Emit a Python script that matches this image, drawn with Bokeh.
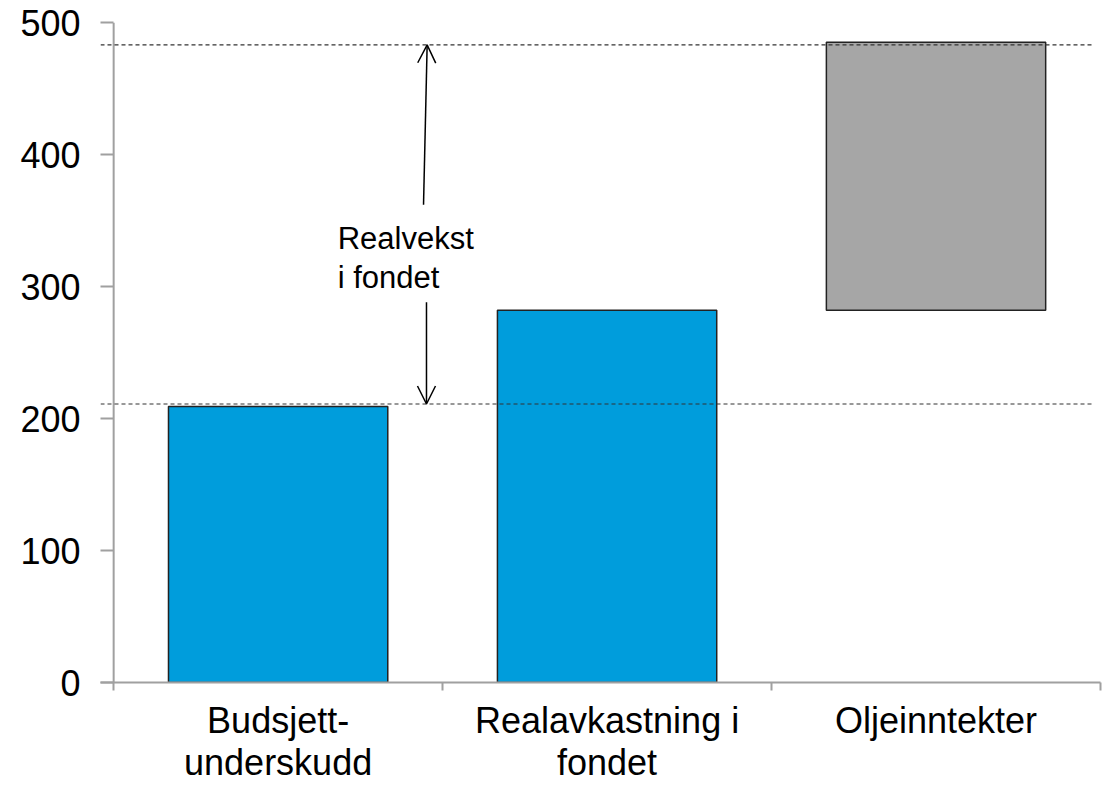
from bokeh.plotting import figure
from bokeh.models import (ColumnDataSource, Range1d, FixedTicker, Arrow, OpenHead, Label, LinearAxis)
from bokeh.embed import file_html
from bokeh.resources import INLINE

# ---- data ----
categories = [["Budsjett-", "underskudd"], ["Realavkastning i", "fondet"], ["Oljeinntekter"]]
bar_bottom = [0, 0, 282]
bar_top = [209, 282, 485]
bar_colors = ["#009DDC", "#009DDC", "#A6A6A6"]
ref_levels = [211, 483]          # dashed reference lines
y_ticks = [0, 100, 200, 300, 400, 500]
annot_lines = ["Realvekst", "i fondet"]

FONT = "Liberation Sans"
AXIS_GRAY = "#A0A0A0"

xs = [i + 0.5 for i in range(len(categories))]
bounds = [i for i in range(len(categories) + 1)]

p = figure(width=1106, height=785, output_backend="svg", toolbar_location=None,
           x_range=Range1d(-0.04, 3.0), y_range=Range1d(0, 500),
           min_border_left=100, min_border_right=6, min_border_top=22, min_border_bottom=0)
p.outline_line_color = None
p.xgrid.visible = False
p.ygrid.visible = False
p.background_fill_color = "white"
p.border_fill_color = "white"

src = ColumnDataSource(dict(x=xs, top=bar_top, bottom=bar_bottom, color=bar_colors))
p.vbar(x="x", top="top", bottom="bottom", width=2/3, fill_color="color",
       line_color="#222222", line_width=1.5, source=src)

# y-axis line at x=0
p.segment(x0=[0], y0=[0], x1=[0], y1=[y_ticks[-1]], line_color=AXIS_GRAY, line_width=2)

# dashed reference lines
p.segment(x0=[-0.04] * len(ref_levels), y0=ref_levels, x1=[2.975] * len(ref_levels), y1=ref_levels,
          line_color="#333333", line_width=1.2, line_dash="4 3")

# arrows
p.add_layout(Arrow(end=OpenHead(size=18, line_width=1.5, line_color="black"),
                   x_start=0.942, y_start=362, x_end=0.953, y_end=ref_levels[1],
                   line_width=1.5, line_color="black"))
p.add_layout(Arrow(end=OpenHead(size=18, line_width=1.5, line_color="black"),
                   x_start=0.951, y_start=288, x_end=0.951, y_end=ref_levels[0],
                   line_width=1.5, line_color="black"))

for txt, yy in zip(annot_lines, [336, 307]):
    p.add_layout(Label(x=0.681, y=yy, text=txt, text_font=FONT, text_font_size="31px",
                       text_baseline="alphabetic", text_align="left", text_color="black"))

# y axis
ya = p.yaxis[0]
ya.ticker = FixedTicker(ticks=y_ticks, minor_ticks=[])
ya.axis_line_color = None
ya.major_tick_in = 13
ya.major_tick_out = 0
ya.major_tick_line_color = AXIS_GRAY
ya.major_tick_line_width = 2
ya.minor_tick_line_color = None
ya.major_label_standoff = 20
ya.major_label_text_font = FONT
ya.major_label_text_font_size = "36px"
ya.major_label_text_color = "black"

# x axis: boundary tick marks + first line of category labels
xa = p.xaxis[0]
xa.ticker = FixedTicker(ticks=xs, minor_ticks=bounds)
xa.major_label_overrides = {x: lines[0] for x, lines in zip(xs, categories)}
xa.axis_line_color = AXIS_GRAY
xa.axis_line_width = 2
xa.major_tick_line_color = None
xa.major_tick_in = 0
xa.major_tick_out = 8
xa.minor_tick_line_color = AXIS_GRAY
xa.minor_tick_line_width = 2
xa.minor_tick_in = 0
xa.minor_tick_out = 8
xa.major_label_standoff = 9
xa.major_label_text_font = FONT
xa.major_label_text_font_size = "36px"
xa.major_label_text_color = "black"

# second line of category labels
second = {x: lines[1] for x, lines in zip(xs, categories) if len(lines) > 1}
xa2 = LinearAxis(ticker=FixedTicker(ticks=list(second.keys()), minor_ticks=[]),
                 major_label_overrides=second)
xa2.axis_line_color = None
xa2.major_tick_line_color = None
xa2.minor_tick_line_color = None
xa2.major_tick_in = 0
xa2.major_tick_out = 0
xa2.major_label_standoff = -2
xa2.major_label_text_font = FONT
xa2.major_label_text_font_size = "36px"
xa2.major_label_text_color = "black"
p.add_layout(xa2, "below")

open("out.html", "w").write(file_html(p, INLINE))
